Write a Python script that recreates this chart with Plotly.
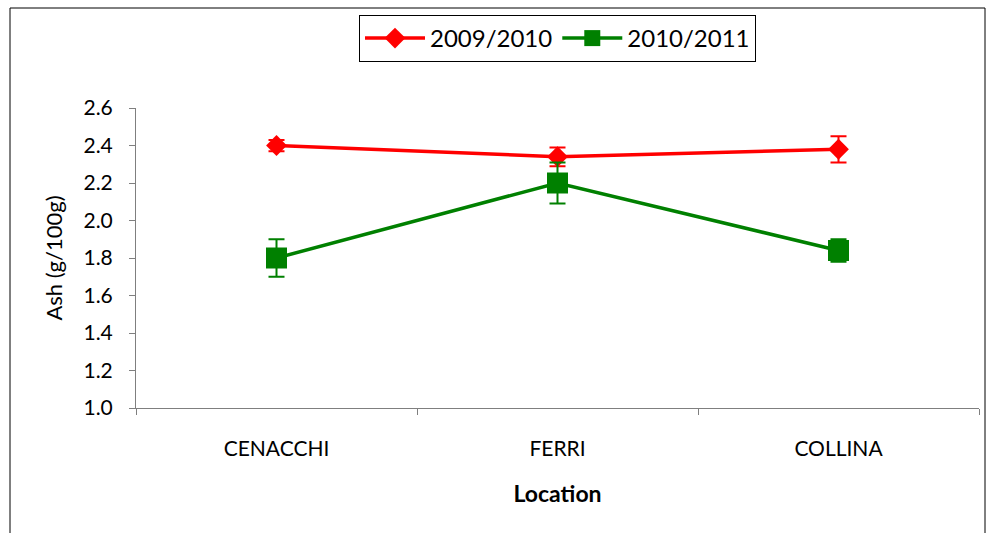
import plotly.graph_objects as go

categories = ["CENACCHI", "FERRI", "COLLINA"]
series_names = ["2009/2010", "2010/2011"]
ash_0910 = [2.40, 2.34, 2.38]
err_0910 = [0.03, 0.05, 0.07]
ash_1011 = [1.80, 2.20, 1.84]
err_1011 = [0.10, 0.11, 0.06]
y_ticks = [1.0, 1.2, 1.4, 1.6, 1.8, 2.0, 2.2, 2.4, 2.6]

FONT = "Lato, Carlito, Calibri, sans-serif"

fig = go.Figure()
fig.add_trace(go.Scatter(
    x=categories, y=ash_0910, name=series_names[0], mode="lines+markers",
    line=dict(color="#FF0000", width=3.5),
    marker=dict(symbol="diamond", size=16, color="#FF0000"),
    error_y=dict(type="data", array=err_0910, visible=True, color="#FF0000", thickness=2, width=8),
))
fig.add_trace(go.Scatter(
    x=categories, y=ash_1011, name=series_names[1], mode="lines+markers",
    line=dict(color="#008000", width=3.5),
    marker=dict(symbol="square", size=21, color="#008000"),
    error_y=dict(type="data", array=err_1011, visible=True, color="#008000", thickness=2, width=8),
))

fig.update_layout(
    width=986, height=533,
    margin=dict(l=136, r=7, t=108, b=125),
    paper_bgcolor="white", plot_bgcolor="white",
    font=dict(family=FONT, color="black"),
    showlegend=True,
    legend=dict(
        orientation="h", x=0.5, xanchor="center", y=1.31, yanchor="top",
        bordercolor="black", borderwidth=1, font=dict(size=24, family=FONT),
        itemwidth=60, tracegroupgap=0,
    ),
    xaxis=dict(
        type="category", range=[-0.5, 2.5], showgrid=False, zeroline=False,
        showline=True, linecolor="#7f7f7f", linewidth=1,
        ticks="outside", tickson="boundaries", ticklen=6, tickcolor="#7f7f7f",
        tickfont=dict(size=21, family=FONT), ticklabelstandoff=22,
        title=dict(text="<b>Location</b>", font=dict(size=23, family=FONT), standoff=26),
    ),
    yaxis=dict(
        range=[1.0, 2.6], tickvals=y_ticks, ticktext=[f"{v:.1f}" for v in y_ticks],
        showgrid=False, zeroline=False, showline=True, linecolor="#7f7f7f", linewidth=1,
        ticks="outside", ticklen=6, tickcolor="#7f7f7f",
        tickfont=dict(size=21, family=FONT), ticklabelstandoff=12,
        title=dict(text="Ash (g/100g)", font=dict(size=22, family=FONT), standoff=14),
    ),
    shapes=[dict(
        type="rect", xref="paper", yref="paper",
        x0=(10 - 136) / 843, x1=(985 - 136) / 843,
        y0=-(125 + 10) / 300, y1=1 + (108 - 8) / 300,
        line=dict(color="black", width=1), fillcolor="rgba(0,0,0,0)", layer="below",
    )],
)

fig.write_html("out.html")
